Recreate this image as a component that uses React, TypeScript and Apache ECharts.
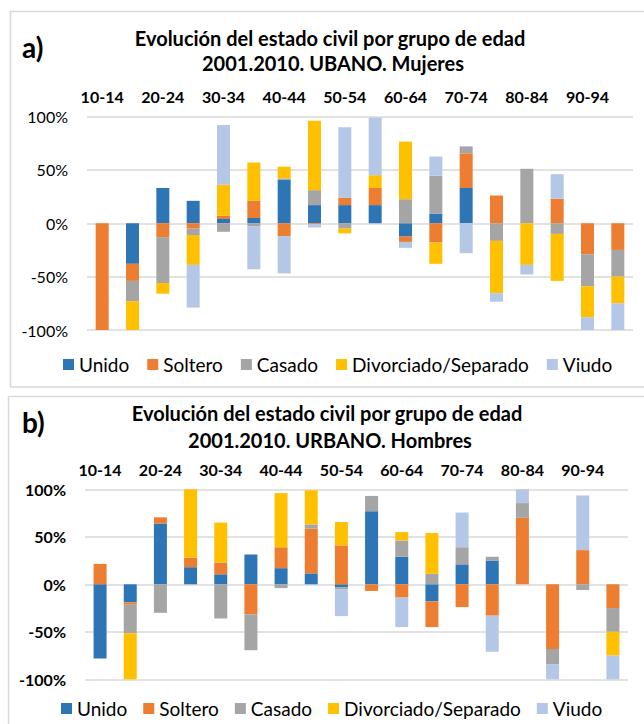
import React, { useEffect, useRef } from "react";
import * as echarts from "echarts";

const categories = [
  "10-14", "15-19", "20-24", "25-29", "30-34", "35-39", "40-44", "45-49", "50-54",
  "55-59", "60-64", "65-69", "70-74", "75-79", "80-84", "85-89", "90-94", "95-99",
];
const seriesNames = ["Unido", "Soltero", "Casado", "Divorciado/Separado", "Viudo"];
const seriesColors = ["#2E75B6", "#ED7D31", "#A5A5A5", "#FFC000", "#B4C7E7"];
const yTicks = [-100, -50, 0, 50, 100];

// a) UBANO. Mujeres
const unidoA = [0, -38, 33, 21, 4, 5, 41, 17, 17, 17, -12.5, 9, 33, 0, 0, 0, 0, 0];
const solteroA = [-100, -16, -13, -5, 3, 16, -12, -1, 7, 16, -5, -18, 32.5, 26, 0, 23, -29, -25];
const casadoA = [0, -19, -43, -6, -8, -3, 1, 14, -5, 0, 22.5, 35.5, 6.5, -16.5, 51, -10, -30, -25];
const divA = [0, -27, -10, -28, 29, 36, 11, 65, -4.5, 12, 54, -20, 0, -49, -39, -44, -29, -25];
const viudoA = [0, 0, 0, -40, 56, -40, -35, -3, 66, 54, -5.5, 18, -28, -8, -9, 23, -12, -25];

// b) URBANO. Hombres
const unidoB = [-78, -19, 64, 18, 10.5, 31.5, 17, 11.5, -3, 77, 29, -18, 21, 25, 0, 0, 0, 0];
const solteroB = [21.5, -2.5, 6.5, 10, 12.5, -31.5, 22, 47, 41, -7, -14, -27, -24, -33, 70, -68, 36, -25];
const casadoB = [0, -30, -30, 0, -36, -38, -4, 4.5, -2.5, 16, 17, 11, 18, 4, 15.5, -16, -6, -25];
const divB = [0, -48.5, 0, 72, 42, 0, 57, 36, 24.5, 0, 9, 43, 0, 0, 0, 0, 0, -25];
const viudoB = [0, 0, 0, 0, 0, 0, 0, 0, -28, 0, -31, 0, 36.5, -38, 14.5, -16, 57.5, -25];

const titleLine1 = "Evolución del estado civil por grupo de edad";
const titleA2 = "2001.2010. UBANO. Mujeres";
const titleB2 = "2001.2010. URBANO. Hombres";

const FONT = "Lato";

export default function App() {
  const ref = useRef<HTMLDivElement>(null);
  useEffect(() => {
    const chart = echarts.init(ref.current!, null, { renderer: "svg" });
    const dataA = [unidoA, solteroA, casadoA, divA, viudoA];
    const dataB = [unidoB, solteroB, casadoB, divB, viudoB];
    const series: any[] = [];
    [dataA, dataB].forEach((set, gi) => {
      set.forEach((d, i) => {
        series.push({
          type: "bar",
          name: seriesNames[i],
          xAxisIndex: gi,
          yAxisIndex: gi,
          stack: "s" + gi,
          data: d,
          barWidth: 13,
          itemStyle: { color: seriesColors[i] },
          emphasis: { disabled: true },
        });
      });
    });
    const xAxis = (gi: number) => ({
      type: "category",
      gridIndex: gi,
      position: "top",
      data: categories,
      axisLine: { show: false },
      axisTick: { show: false },
      axisLabel: {
        interval: 1,
        fontFamily: FONT,
        fontWeight: "bold",
        fontSize: 16,
        color: "#000",
        margin: 12,
      },
    });
    const yAxis = (gi: number, bold: boolean) => ({
      type: "value",
      gridIndex: gi,
      min: yTicks[0],
      max: yTicks[yTicks.length - 1],
      interval: 50,
      axisLine: { show: false },
      axisTick: { show: false },
      splitLine: { lineStyle: { color: "#D9D9D9", width: 1.5 } },
      axisLabel: {
        formatter: "{value}%",
        fontFamily: FONT,
        fontSize: 16,
        fontWeight: bold ? "bold" : "normal",
        color: "#000",
        margin: 19,
      },
    });
    const legend = (left: number, top: number, gap: number) => ({
      data: seriesNames,
      left,
      top,
      icon: "rect",
      itemWidth: 11,
      itemHeight: 11,
      itemGap: gap,
      selectedMode: false,
      textStyle: { fontFamily: FONT, fontSize: 19, color: "#000" },
    });
    const text = (x: number, y: number, t: string, size: number, align = "center") => ({
      type: "text",
      x,
      y,
      style: {
        text: t,
        fontFamily: FONT,
        fontWeight: "bold",
        fontSize: size,
        fill: "#000",
        align,
        verticalAlign: "middle",
      },
    });
    chart.setOption({
      animation: false,
      backgroundColor: "#fff",
      grid: [
        { left: 87, top: 116.5, width: 546, height: 213.5 },
        { left: 85, top: 489.3, width: 543, height: 190 },
      ],
      xAxis: [xAxis(0), xAxis(1)],
      yAxis: [yAxis(0, false), yAxis(1, true)],
      legend: [legend(58, 350, 18), legend(56, 694, 16)],
      series,
      graphic: [
        { type: "rect", shape: { x: 10.5, y: 11.5, width: 660, height: 375.5 }, style: { fill: "none", stroke: "#D9D9D9", lineWidth: 1.5 } },
        { type: "rect", shape: { x: 8.5, y: 396.5, width: 660, height: 400 }, style: { fill: "none", stroke: "#D9D9D9", lineWidth: 1.5 } },
        text(22, 47, "a)", 28, "left"),
        text(22, 422, "b)", 28, "left"),
        text(330, 38, titleLine1, 20),
        text(333, 63, titleA2, 20),
        text(327, 413, titleLine1, 20),
        text(330, 440, titleB2, 20),
      ],
    });
    return () => chart.dispose();
  }, []);
  return (
    <div
      ref={ref}
      style={{ position: "absolute", left: 0, top: 0, width: 644, height: 724, background: "#fff" }}
    />
  );
}
